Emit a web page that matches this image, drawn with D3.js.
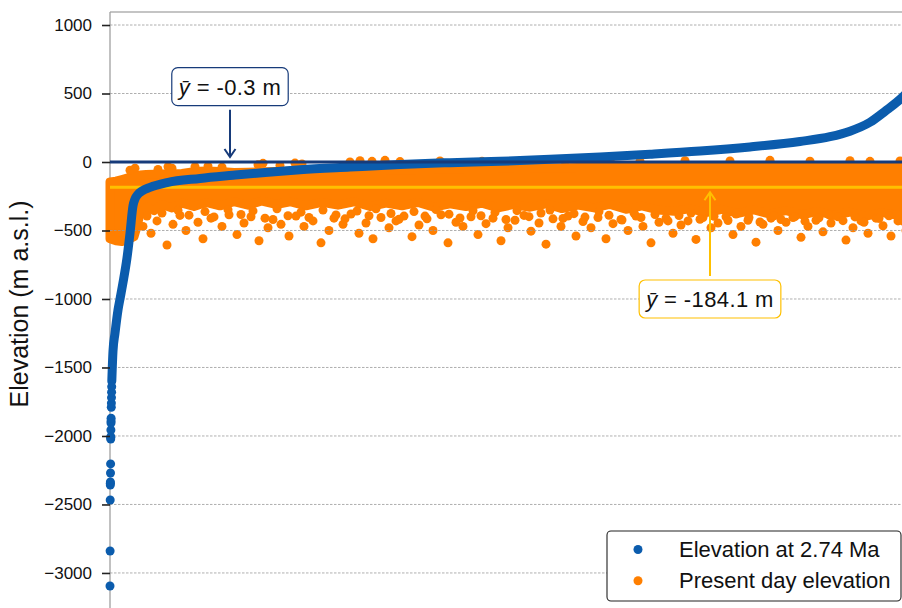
<!DOCTYPE html>
<html>
<head>
<meta charset="utf-8">
<script src="https://cdn.jsdelivr.net/npm/d3@7"></script>
<style>
  body { margin: 0; background: #fff; }
  svg { display: block; font-family: "Liberation Sans", Arial, sans-serif; }
</style>
</head>
<body>
<svg id="chart"></svg>
<script>
// y ticks (m a.s.l.)
const yTicks = [1000, 500, 0, -500, -1000, -1500, -2000, -2500, -3000];

// series names
const seriesNames = ["Elevation at 2.74 Ma", "Present day elevation"];

// mean values of the two series
const meanValues = [-0.3, -184.1];

// Elevation at 2.74 Ma, sorted: isolated deep points at the start (rank, m)
const pastSparse = [
  [0, -3095], [0.1, -2840], [0.2, -2467], [0.3, -2358], [0.35, -2345], [0.4, -2336],
  [0.5, -2270], [0.6, -2204], [0.7, -2022], [0.75, -2012], [0.8, -2005], [0.9, -1956],
  [1.0, -1905], [1.05, -1890], [1.1, -1870], [1.3, -1790], [1.4, -1760], [1.5, -1720],
  [1.6, -1680], [1.7, -1640]
];

// Elevation at 2.74 Ma, sorted: dense part (rank, m)
const pastCurve = [
  [1.8, -1600], [3, -1380], [5, -1250], [8, -1080], [10, -1000], [13, -880], [17, -700],
  [20, -520], [23, -320], [25, -270], [28, -235], [32, -212], [40, -185], [57, -150],
  [90, -120], [123, -97], [155, -76], [190, -57], [240, -37], [290, -18], [340, -5],
  [390, 5], [440, 20], [490, 37], [540, 57], [590, 80], [640, 110], [690, 150],
  [720, 185], [740, 225], [760, 290], [775, 370], [792, 470], [800, 530]
];

// Present day elevation: solid core of the cloud (rank, top m, bottom m)
const presentCore = [
  [0, -145, -560], [6, -140, -575], [12, -128, -580], [18, -115, -565], [24, -105, -545],
  [27, -100, -470], [30, -95, -380], [36, -92, -330], [44, -90, -355], [52, -88, -310],
  [62, -85, -335], [72, -84, -300], [84, -70, -325], [96, -65, -295], [110, -70, -320],
  [124, -76, -290], [138, -74, -315], [152, -72, -285], [166, -70, -310], [180, -68, -290],
  [196, -66, -320], [212, -64, -295], [228, -63, -315], [244, -62, -290], [260, -60, -325],
  [276, -58, -300], [292, -56, -320], [308, -54, -295], [324, -52, -330], [340, -50, -305],
  [356, -48, -325], [372, -47, -300], [388, -46, -335], [404, -45, -310], [420, -44, -330],
  [436, -43, -305], [452, -42, -340], [468, -41, -315], [484, -40, -335], [500, -40, -310],
  [516, -40, -345], [532, -40, -320], [548, -40, -350], [564, -40, -360], [580, -40, -340],
  [596, -40, -370], [612, -40, -345], [628, -40, -375], [644, -40, -350], [660, -40, -380],
  [676, -40, -355], [692, -40, -385], [708, -40, -360], [724, -40, -390], [740, -40, -365],
  [756, -40, -395], [772, -40, -370], [788, -40, -390], [800, -40, -380]
];

// Present day elevation: individual points around the core (rank, m)
const presentPoints = [
  [33, -470], [41, -520], [47, -430], [57, -606], [63, -455], [70, -390], [76, -500],
  [88, -440], [93, -560], [101, -410], [112, -470], [119, -385], [127, -530], [134, -445],
  [141, -400], [149, -575], [158, -480], [163, -420], [171, -455], [179, -540], [186, -395],
  [194, -470], [203, -430], [211, -590], [219, -500], [224, -410], [233, -455], [241, -380],
  [249, -520], [256, -445], [263, -560], [271, -405], [279, -480], [286, -430], [294, -395],
  [302, -545], [309, -460], [317, -415], [323, -500], [331, -385], [338, -590], [346, -440],
  [353, -470], [361, -400], [368, -530], [376, -450], [383, -410], [391, -575], [398, -480],
  [405, -425], [414, -390], [421, -505], [429, -445], [436, -600], [443, -415], [451, -470],
  [458, -395], [466, -540], [473, -435], [481, -480], [488, -405], [496, -560], [503, -450],
  [511, -420], [518, -500], [526, -395], [533, -470], [541, -590], [549, -440], [556, -410],
  [563, -520], [571, -460], [578, -430], [586, -565], [593, -405], [601, -480], [608, -445],
  [616, -400], [623, -530], [631, -470], [638, -425], [646, -585], [653, -455], [661, -410],
  [668, -500], [676, -440], [683, -405], [691, -550], [698, -470], [706, -425], [713, -510],
  [721, -445], [728, -400], [736, -570], [743, -480], [751, -430], [758, -520], [766, -410],
  [773, -465], [781, -540], [788, -430], [796, -500],
  [37, -395], [52, -372], [68, -352], [79, -388], [95, -362], [104, -401], [118, -348],
  [131, -383], [143, -357], [155, -410], [167, -342], [178, -392], [191, -366], [199, -405],
  [213, -351], [226, -386], [235, -415], [247, -358], [259, -392], [266, -341], [281, -376],
  [289, -418], [304, -362], [315, -395], [326, -347], [339, -381], [350, -409], [363, -356],
  [371, -392], [385, -368], [396, -420], [407, -355], [419, -399], [431, -372], [440, -350],
  [453, -412], [464, -377], [475, -402], [489, -361], [499, -389], [512, -423], [524, -372],
  [531, -405], [545, -383], [558, -430], [569, -391], [581, -372], [590, -418], [604, -396],
  [618, -427], [626, -380], [639, -405], [650, -438], [664, -392], [671, -420], [685, -399],
  [695, -432], [709, -407], [719, -385], [733, -428], [745, -401], [754, -440], [769, -412],
  [779, -392], [793, -431],
  [20, -60], [25, -45], [48, -55], [58, -35], [62, -45], [85, -35], [98, -30], [112, -38],
  [148, -20], [153, -10], [170, -25], [185, -8], [192, -15], [240, 0], [250, 10], [262, 5],
  [275, 12], [290, 3], [330, 8], [372, 5], [410, 10], [455, 6], [500, 12], [530, 5],
  [575, 10], [620, 8], [660, 12], [700, 6], [740, 10], [760, 5], [790, 8]
];

const W = 902, H = 608;
const blue = "#0b5cad", orange = "#ff7f00", navy = "#173b7a", gold = "#ffc000";

const svg = d3.select("#chart").attr("width", W).attr("height", H);

const x = d3.scaleLinear().domain([0, 800]).range([110, 910]);
const y = d3.scaleLinear().domain([1095, -3285]).range([12, 612]);

// frame
svg.append("line").attr("x1", 110).attr("x2", W).attr("y1", 12).attr("y2", 12)
  .attr("stroke", "#b0b0b0").attr("stroke-width", 1.3);
svg.append("line").attr("x1", 110).attr("x2", 110).attr("y1", 12).attr("y2", H)
  .attr("stroke", "#a0a0a0").attr("stroke-width", 1.3);

// present day cloud
const core = d3.area()
  .x(d => x(d[0])).y0(d => y(d[2])).y1(d => y(d[1]));
svg.append("path").datum(presentCore).attr("d", core)
  .attr("fill", orange).attr("stroke", orange)
  .attr("stroke-width", 9).attr("stroke-linejoin", "round");
svg.append("g").selectAll("circle").data(presentPoints).join("circle")
  .attr("cx", d => x(d[0])).attr("cy", d => y(d[1])).attr("r", 4.5)
  .attr("fill", orange);

// grid
svg.append("g").selectAll("line").data(yTicks).join("line")
  .attr("x1", 110).attr("x2", W)
  .attr("y1", d => y(d)).attr("y2", d => y(d))
  .attr("stroke", "#9a9a9a").attr("stroke-width", 0.8)
  .attr("stroke-dasharray", "2.5,1.5");

// mean of present day
svg.append("line").attr("x1", 110).attr("x2", W)
  .attr("y1", y(meanValues[1])).attr("y2", y(meanValues[1]))
  .attr("stroke", gold).attr("stroke-width", 3);

// elevation at 2.74 Ma
const curve = d3.line().x(d => x(d[0])).y(d => y(d[1])).curve(d3.curveMonotoneX);
svg.append("path").datum(pastCurve).attr("d", curve)
  .attr("fill", "none").attr("stroke", blue)
  .attr("stroke-width", 9).attr("stroke-linecap", "round");
svg.append("g").selectAll("circle").data(pastSparse).join("circle")
  .attr("cx", d => x(d[0])).attr("cy", d => y(d[1])).attr("r", 4.5)
  .attr("fill", blue);

// mean of 2.74 Ma
svg.append("line").attr("x1", 110).attr("x2", W)
  .attr("y1", y(meanValues[0])).attr("y2", y(meanValues[0]))
  .attr("stroke", navy).attr("stroke-width", 3);

// y axis
const axis = svg.append("g").attr("transform", "translate(110,0)")
  .call(d3.axisLeft(y).tickValues(yTicks).tickSize(8).tickPadding(10).tickFormat(d3.format("d")));
axis.select(".domain").remove();
axis.selectAll(".tick line").attr("stroke", "#222").attr("stroke-width", 1.6);
axis.selectAll(".tick text").attr("fill", "#111").style("font-size", "17px")
  .style("font-family", "'Liberation Sans', Arial, sans-serif");

svg.append("text")
  .attr("transform", "translate(28,304) rotate(-90)")
  .attr("text-anchor", "middle")
  .style("font-size", "25px").attr("fill", "#111")
  .text("Elevation (m a.s.l.)");

// mean annotations
const notes = [
  { value: meanValues[0], color: navy, at: [120, 550], up: false },
  { value: meanValues[1], color: gold, at: [600, -1000], up: true }
];
notes.forEach(n => {
  const cx = x(n.at[0]), cy = y(n.at[1]);
  const g = svg.append("g");
  const rect = g.append("rect");
  const t = g.append("text").attr("x", cx).attr("y", cy + 8)
    .attr("text-anchor", "middle").attr("fill", "#111")
    .style("font-size", "22px").style("letter-spacing", "0.4px");
  t.append("tspan").style("font-style", "italic").text("\u0233");
  t.append("tspan").text(" = " + n.value + " m");
  const bb = t.node().getBBox();
  const bw = bb.width + 12, bh = 38;
  rect.attr("x", cx - bw / 2).attr("y", cy - bh / 2).attr("width", bw).attr("height", bh)
    .attr("rx", 6).attr("fill", "#fff").attr("stroke", n.color).attr("stroke-width", 1.2);
  const tipY = n.up ? y(n.value) + 5 : y(n.value) - 5;
  const tailY = n.up ? cy - bh / 2 - 4 : cy + bh / 2 + 4;
  const d = n.up ? -1 : 1;
  g.append("line").attr("x1", cx).attr("x2", cx).attr("y1", tailY).attr("y2", tipY)
    .attr("stroke", n.color).attr("stroke-width", 2);
  g.append("path")
    .attr("d", `M${cx - 5.5},${tipY - d * 8}L${cx},${tipY}L${cx + 5.5},${tipY - d * 8}`)
    .attr("fill", "none").attr("stroke", n.color).attr("stroke-width", 2);
});

// legend
const leg = svg.append("g");
leg.append("rect").attr("x", 607).attr("y", 531).attr("width", 294).attr("height", 70)
  .attr("rx", 4).attr("fill", "#fff").attr("stroke", "#222").attr("stroke-width", 1.1);
const legColors = [blue, orange];
seriesNames.forEach((s, i) => {
  leg.append("circle").attr("cx", 638).attr("cy", 549.5 + i * 31.3).attr("r", 4.5)
    .attr("fill", legColors[i]);
  leg.append("text").attr("x", 679).attr("y", 557 + i * 31.3)
    .style("font-size", "22px").attr("fill", "#111")
    .text(s);
});
</script>
</body>
</html>
